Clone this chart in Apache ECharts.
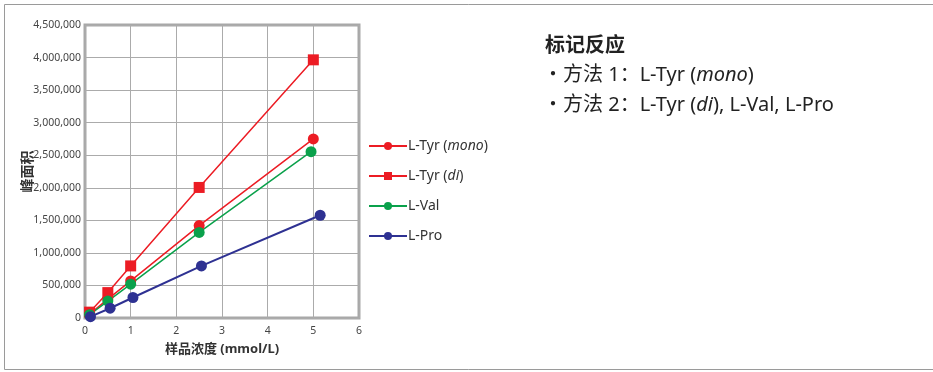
<!DOCTYPE html>
<html>
<head>
<meta charset="utf-8">
<script src="https://cdn.jsdelivr.net/npm/echarts@6/dist/echarts.min.js"></script>
<style>
  html, body { margin: 0; padding: 0; background: #fff; }
  #chart { width: 933px; height: 372px; }
</style>
</head>
<body>
<div id="chart"></div>
<script>
// Concentration (mmol/L) and peak area for each labelled amino acid
const tyrMonoX = [0.1, 0.5, 1.0, 2.5, 5.0];
const tyrMonoY = [60000, 290000, 570000, 1420000, 2750000];
const tyrDiX = [0.1, 0.5, 1.0, 2.5, 5.0];
const tyrDiY = [90000, 390000, 800000, 2005000, 3965000];
const valX = [0.1, 0.5, 1.0, 2.5, 4.95];
const valY = [50000, 260000, 520000, 1315000, 2555000];
const proX = [0.12, 0.55, 1.05, 2.55, 5.15];
const proY = [20000, 150000, 315000, 800000, 1578000];

const seriesNames = ['L-Tyr (mono)', 'L-Tyr (di)', 'L-Val', 'L-Pro'];
const xTicks = [0, 1, 2, 3, 4, 5, 6];

const FONT = '"Noto Sans", "Noto Sans CJK SC", sans-serif';
const RED = '#ec1c24';
const GREEN = '#0aa14b';
const BLUE = '#2e3192';

function pairs(xs, ys) { return xs.map((x, i) => [x, ys[i]]); }

const legendRich = {
  n: { fontFamily: FONT, fontSize: 14, color: '#333' },
  i: { fontFamily: FONT, fontSize: 14, color: '#333', fontStyle: 'italic' }
};
const noteRich = {
  n: { fontFamily: FONT, fontSize: 20, fill: '#222' },
  i: { fontFamily: FONT, fontSize: 20, fill: '#222', fontStyle: 'italic' }
};

const chart = echarts.init(document.getElementById('chart'));
chart.setOption({
  animation: false,
  grid: { left: 85, top: 25, width: 274, height: 293, containLabel: false,
          show: true, borderColor: '#a8a8a8', borderWidth: 3, backgroundColor: 'transparent' },
  xAxis: {
    type: 'value', min: xTicks[0], max: xTicks[xTicks.length - 1], interval: 1,
    name: '样品浓度 (mmol/L)', nameLocation: 'middle', nameGap: 25, nameMoveOverlap: false,
    nameTextStyle: { fontFamily: FONT, fontSize: 13, fontWeight: 'bold', color: '#333' },
    axisLine: { show: false }, axisTick: { show: false },
    axisLabel: { fontFamily: FONT, fontSize: 10.5, color: '#444', margin: 8 },
    splitLine: { show: true, lineStyle: { color: '#ababab', width: 1 } }
  },
  yAxis: {
    type: 'value', min: 0, max: 4500000, interval: 500000,
    name: '峰面积', nameLocation: 'middle', nameGap: 50, nameRotate: 90, nameMoveOverlap: false,
    nameTextStyle: { fontFamily: FONT, fontSize: 14, fontWeight: 'bold', color: '#333' },
    axisLine: { show: false }, axisTick: { show: false },
    axisLabel: { fontFamily: FONT, fontSize: 10.5, color: '#444', margin: 4,
                 formatter: v => v.toLocaleString('en-US') },
    splitLine: { show: true, lineStyle: { color: '#ababab', width: 1 } }
  },
  legend: {
    orient: 'vertical', left: 363, top: 134, itemGap: 16,
    itemWidth: 38, itemHeight: 10,
    data: seriesNames,
    textStyle: { rich: legendRich, padding: [0, 0, 0, -4] },
    formatter: name => {
      const m = name.match(/^(.*\()(.*)(\))$/);
      return m ? '{n|' + m[1] + '}{i|' + m[2] + '}{n|' + m[3] + '}' : '{n|' + name + '}';
    }
  },
  graphic: [
    { type: 'line', shape: { x1: 4.5, y1: 4.5, x2: 933, y2: 4.5 }, style: { stroke: '#9a9a9a', lineWidth: 1 } },
    { type: 'line', shape: { x1: 4.5, y1: 4.5, x2: 4.5, y2: 369.5 }, style: { stroke: '#9a9a9a', lineWidth: 1 } },
    { type: 'line', shape: { x1: 4.5, y1: 369.5, x2: 933, y2: 369.5 }, style: { stroke: '#9a9a9a', lineWidth: 1 } },
    { type: 'text', left: 545, top: 36, style: { text: '标记反应', fontFamily: FONT, fontSize: 20, fontWeight: 'bold', fill: '#222' } },
    { type: 'text', left: 543, top: 65, style: { text: '{n|・方法 1：L-Tyr (}{i|mono}{n|)}', rich: noteRich } },
    { type: 'text', left: 543, top: 95, style: { text: '{n|・方法 2：L-Tyr (}{i|di}{n|), L-Val, L-Pro}', rich: noteRich } }
  ],
  series: [
    { name: 'L-Tyr (di)', type: 'line', data: pairs(tyrDiX, tyrDiY), symbol: 'rect', symbolSize: 11,
      lineStyle: { color: RED, width: 1.5 }, itemStyle: { color: RED } },
    { name: 'L-Tyr (mono)', type: 'line', data: pairs(tyrMonoX, tyrMonoY), symbol: 'circle', symbolSize: 11,
      lineStyle: { color: RED, width: 1.5 }, itemStyle: { color: RED } },
    { name: 'L-Val', type: 'line', data: pairs(valX, valY), symbol: 'circle', symbolSize: 11,
      lineStyle: { color: GREEN, width: 1.5 }, itemStyle: { color: GREEN } },
    { name: 'L-Pro', type: 'line', data: pairs(proX, proY), symbol: 'circle', symbolSize: 11,
      lineStyle: { color: BLUE, width: 2 }, itemStyle: { color: BLUE } }
  ]
});
</script>
</body>
</html>
